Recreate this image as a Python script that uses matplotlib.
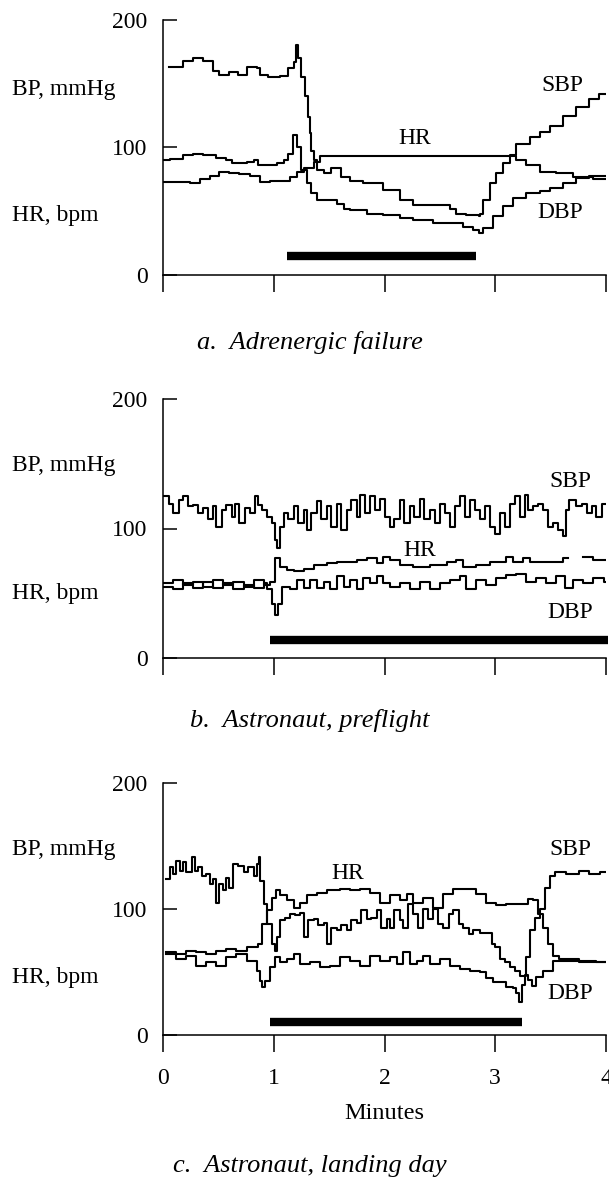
import numpy as np
import matplotlib
matplotlib.use("Agg")
import matplotlib.pyplot as plt

plt.rcParams['font.family'] = ['Liberation Serif', 'DejaVu Serif']

# ---- a. adrenergic failure ----
a_sbp_t = [0.05, 0.18, 0.27, 0.36, 0.45, 0.51, 0.60, 0.68, 0.76, 0.85, 0.88, 0.95, 1.06, 1.13, 1.18,
           1.20, 1.22, 1.25, 1.28, 1.31, 1.33, 1.34, 1.36, 1.39, 1.45, 1.52, 1.57, 1.61, 1.69, 1.81,
           1.99, 2.14, 2.26, 2.38, 2.50, 2.59, 2.65, 2.74, 2.85, 2.86, 2.89, 2.95, 3.01, 3.07, 3.13,
           3.19, 3.31, 3.40, 3.49, 3.61, 3.73, 3.85, 3.94, 4.02]
a_sbp = [163, 168, 170, 168, 160, 157, 159, 157, 163, 162, 157, 155, 156, 162, 167,
         180, 170, 155, 140, 124, 111, 97, 90, 82, 80, 84, 84, 77, 74, 72,
         67, 59, 55, 55, 55, 52, 48, 47, 46, 48, 59, 72, 80, 88, 94,
         103, 108, 112, 117, 125, 132, 138, 142, 143]
a_dbp_t = [0.0, 0.06, 0.18, 0.27, 0.36, 0.48, 0.57, 0.62, 0.69, 0.76, 0.82, 0.86, 0.94, 1.03, 1.09,
           1.13, 1.17, 1.21, 1.25, 1.30, 1.34, 1.39, 1.45, 1.57, 1.63, 1.69, 1.84, 1.99, 2.14, 2.26,
           2.44, 2.59, 2.71, 2.80, 2.85, 2.89, 2.98, 3.07, 3.16, 3.28, 3.40, 3.49, 3.61, 3.73, 3.85, 4.02]
a_dbp = [90, 91, 94, 95, 94, 92, 90, 88, 88, 89, 90, 86, 86, 88, 90,
         95, 110, 100, 82, 72, 64, 59, 59, 56, 52, 51, 48, 47, 45, 43,
         41, 41, 38, 35, 33, 37, 46, 54, 60, 64, 66, 68, 72, 76, 78, 84]
a_hr_t = [0.0, 0.12, 0.24, 0.33, 0.42, 0.51, 0.60, 0.69, 0.79, 0.88, 0.97, 1.09, 1.15, 1.21, 1.27,
          1.36, 1.42, 3.13, 3.19, 3.28, 3.40, 3.55, 3.70, 3.88, 4.02]
a_hr = [73, 73, 72, 75, 78, 81, 80, 79, 78, 73, 74, 74, 77, 81, 84,
        89, 93, 93, 90, 86, 81, 80, 77, 75, 75]
a_bar = [1.12, 2.83]
a_bar_level = 15

# ---- b. astronaut, preflight ----
b_sbp_t = [0.0, 0.05, 0.09, 0.14, 0.18, 0.23, 0.27, 0.32, 0.36, 0.41,
           0.45, 0.48, 0.53, 0.57, 0.62, 0.65, 0.69, 0.74, 0.79, 0.83,
           0.86, 0.89, 0.94, 0.98, 1.01, 1.03, 1.06, 1.09, 1.13, 1.18,
           1.22, 1.27, 1.30, 1.34, 1.39, 1.43, 1.48, 1.52, 1.57, 1.61,
           1.66, 1.70, 1.75, 1.78, 1.82, 1.87, 1.91, 1.96, 2.00, 2.05,
           2.09, 2.14, 2.18, 2.23, 2.27, 2.32, 2.36, 2.41, 2.46, 2.50,
           2.55, 2.59, 2.64, 2.68, 2.73, 2.77, 2.82, 2.86, 2.91, 2.95,
           3.00, 3.04, 3.09, 3.13, 3.18, 3.22, 3.27, 3.30, 3.34, 3.39,
           3.43, 3.48, 3.52, 3.57, 3.61, 3.64, 3.67, 3.73, 3.78, 3.83,
           3.87, 3.91, 3.96, 4.02]
b_sbp = [125, 119, 112, 122, 125, 117, 118, 112, 116, 107,
         117, 101, 114, 118, 109, 119, 104, 116, 112, 125,
         118, 114, 109, 104, 91, 85, 101, 112, 107, 117,
         104, 114, 99, 112, 121, 107, 117, 101, 119, 99,
         114, 122, 109, 126, 112, 125, 114, 123, 109, 101,
         107, 122, 104, 117, 109, 123, 107, 114, 104, 119,
         112, 101, 117, 125, 109, 122, 114, 107, 117, 101,
         96, 112, 101, 119, 125, 109, 126, 114, 117, 119,
         114, 101, 104, 99, 94, 114, 122, 117, 119, 112,
         117, 109, 119, 112]
b_hr_t = [0.0, 0.09, 0.18, 0.27, 0.36, 0.45, 0.54, 0.63, 0.73, 0.82,
          0.91, 0.97, 1.01, 1.06, 1.12, 1.18, 1.27, 1.36, 1.48, 1.57,
          1.66, 1.75, 1.84, 1.93, 1.99, 2.05, 2.14, 2.26, 2.41, 2.56,
          2.65, 2.71, 2.83, 2.95, 3.10, 3.16, 3.25, 3.31, 3.46, 3.61,
          3.66, 3.79, 3.88, 4.02]
b_hr = [58, 60, 56, 59, 55, 60, 56, 59, 55, 60,
        56, 59, 77, 70, 68, 67, 69, 72, 73, 74,
        74, 76, 77, 73, 78, 76, 72, 70, 72, 74,
        76, 70, 72, 74, 78, 74, 77, 74, 74, 77,
        np.nan, 78, 76, 76]
b_dbp_t = [0.0, 0.09, 0.18, 0.27, 0.36, 0.45, 0.54, 0.63, 0.73, 0.82,
           0.91, 0.94, 0.98, 1.01, 1.04, 1.07, 1.15, 1.21, 1.27, 1.33,
           1.39, 1.45, 1.51, 1.57, 1.63, 1.69, 1.75, 1.81, 1.87, 1.93,
           1.99, 2.05, 2.14, 2.23, 2.32, 2.41, 2.50, 2.59, 2.68, 2.74,
           2.83, 2.92, 3.01, 3.10, 3.19, 3.28, 3.37, 3.46, 3.55, 3.63,
           3.70, 3.79, 3.88, 3.98, 4.02]
b_dbp = [55, 53, 58, 54, 59, 54, 58, 53, 56, 54,
         58, 53, 42, 33, 42, 55, 53, 60, 54, 60,
         54, 59, 53, 63, 55, 60, 53, 62, 58, 63,
         58, 55, 58, 53, 59, 53, 58, 60, 63, 53,
         60, 56, 62, 64, 65, 59, 62, 58, 63, 54,
         60, 58, 62, 59, 56]
b_bar = [0.97, 4.02]
b_bar_level = 14

# ---- c. astronaut, landing day ----
c_sbp_t = [0.03, 0.06, 0.09, 0.12, 0.15, 0.18, 0.21, 0.26, 0.29, 0.32,
           0.35, 0.39, 0.42, 0.45, 0.48, 0.51, 0.54, 0.57, 0.60, 0.63,
           0.68, 0.73, 0.77, 0.82, 0.85, 0.87, 0.88, 0.91, 0.94, 0.98,
           1.01, 1.03, 1.06, 1.10, 1.15, 1.19, 1.24, 1.27, 1.31, 1.36,
           1.40, 1.45, 1.48, 1.52, 1.57, 1.61, 1.66, 1.70, 1.75, 1.79,
           1.84, 1.88, 1.93, 1.97, 2.02, 2.05, 2.09, 2.14, 2.17, 2.21,
           2.26, 2.30, 2.35, 2.39, 2.44, 2.48, 2.53, 2.58, 2.62, 2.67,
           2.71, 2.76, 2.80, 2.86, 2.92, 2.97, 3.00, 3.04, 3.09, 3.13,
           3.18, 3.22, 3.25, 3.28, 3.31, 3.36, 3.40, 3.45, 3.49, 3.54,
           3.64, 3.76, 3.85, 3.95, 4.02]
c_sbp = [124, 133, 128, 138, 130, 137, 129, 141, 130, 133,
         126, 128, 120, 124, 105, 120, 115, 125, 117, 136,
         134, 129, 133, 126, 136, 141, 122, 104, 88, 72,
         67, 78, 91, 93, 96, 95, 97, 78, 91, 92,
         87, 89, 72, 85, 83, 87, 83, 91, 89, 99,
         92, 93, 99, 85, 92, 85, 99, 91, 85, 104,
         96, 85, 100, 92, 100, 88, 85, 96, 99, 88,
         85, 80, 83, 81, 81, 72, 70, 60, 58, 54,
         51, 47, 47, 62, 83, 93, 100, 117, 126, 129,
         128, 130, 128, 129, 132]
c_hr_t = [0.03, 0.12, 0.21, 0.30, 0.39, 0.48, 0.57, 0.66, 0.76, 0.82,
          0.86, 0.89, 0.94, 0.98, 1.02, 1.06, 1.12, 1.18, 1.24, 1.30,
          1.39, 1.48, 1.60, 1.69, 1.78, 1.87, 1.96, 2.05, 2.14, 2.20,
          2.26, 2.35, 2.44, 2.53, 2.62, 2.74, 2.83, 2.92, 3.01, 3.10,
          3.22, 3.30, 3.34, 3.39, 3.43, 3.48, 3.52, 3.58, 3.76, 3.91, 4.02]
c_hr = [66, 64, 67, 66, 64, 67, 68, 67, 70, 70,
        72, 88, 99, 109, 115, 111, 107, 101, 105, 111,
        113, 115, 116, 115, 116, 113, 105, 111, 107, 112,
        105, 109, 101, 112, 116, 116, 112, 105, 103, 104,
        104, 108, 107, 96, 85, 72, 63, 60, 59, 58, 58]
c_dbp_t = [0.03, 0.12, 0.21, 0.30, 0.39, 0.48, 0.57, 0.66, 0.76, 0.82,
           0.85, 0.88, 0.89, 0.92, 0.97, 1.01, 1.06, 1.12, 1.18, 1.24,
           1.33, 1.42, 1.51, 1.60, 1.69, 1.78, 1.87, 1.96, 2.05, 2.11,
           2.17, 2.23, 2.29, 2.35, 2.41, 2.50, 2.59, 2.68, 2.77, 2.86,
           2.92, 2.98, 3.04, 3.10, 3.16, 3.19, 3.21, 3.24, 3.27, 3.30,
           3.33, 3.37, 3.43, 3.52, 3.64, 3.76, 3.89, 4.02]
c_dbp = [64, 60, 63, 55, 58, 55, 62, 64, 59, 59,
         51, 43, 38, 43, 54, 62, 58, 60, 64, 56,
         58, 54, 55, 62, 59, 55, 63, 59, 62, 56,
         66, 56, 59, 63, 56, 60, 55, 52, 51, 50,
         45, 42, 42, 38, 37, 33, 26, 40, 48, 44,
         39, 46, 51, 59, 59, 58, 58, 58]
c_bar = [0.97, 3.24]
c_bar_level = 10

minute_ticks = [0, 1, 2, 3, 4]
value_ticks = [0, 100, 200]

W, H = 609, 1182
FS = 17
fig = plt.figure(figsize=(W / 100, H / 100), dpi=100)


def make_axes(top, bottom):
    # axes placed by pixel rows of the 200 and 0 levels
    ax = fig.add_axes([163 / W, 1 - bottom / H, 443 / W, (bottom - top) / H])
    ax.set_xlim(0, 4)
    ax.set_ylim(0, 200)
    ax.spines['top'].set_visible(False)
    ax.spines['right'].set_visible(False)
    ax.spines['left'].set_linewidth(1.1)
    ax.spines['bottom'].set_linewidth(1.1)
    ax.set_yticks(value_ticks)
    ax.set_xticks(minute_ticks)
    ax.tick_params(axis='y', direction='in', length=10, width=1.1, pad=11, labelsize=FS)
    ax.tick_params(axis='x', direction='out', length=12, width=1.1, pad=12, labelsize=FS)
    return ax


def draw_panel(ax, series, bar, bar_level, labels):
    for t, v in series:
        ax.plot(t, v, color='black', lw=1.5, drawstyle='steps-post')
    ax.plot(bar, [bar_level, bar_level], color='black', lw=6, solid_capstyle='butt',
            clip_on=False)
    for txt, x, y, ha in labels:
        ax.text(x, y, txt, ha=ha, va='center', fontsize=FS)


panels = [
    (20, 275, [(a_sbp_t, a_sbp), (a_dbp_t, a_dbp), (a_hr_t, a_hr)], a_bar, a_bar_level,
     [('SBP', 3.42, 149, 'left'), ('HR', 2.27, 107, 'center'), ('DBP', 3.38, 49, 'left')],
     'a.  Adrenergic failure', 342, 90, 215),
    (399, 658, [(b_sbp_t, b_sbp), (b_hr_t, b_hr), (b_dbp_t, b_dbp)], b_bar, b_bar_level,
     [('SBP', 3.49, 136, 'left'), ('HR', 2.32, 83, 'center'), ('DBP', 3.47, 35, 'left')],
     'b.  Astronaut, preflight', 721, 465, 593),
    (783, 1035, [(c_sbp_t, c_sbp), (c_hr_t, c_hr), (c_dbp_t, c_dbp)], c_bar, c_bar_level,
     [('SBP', 3.49, 147, 'left'), ('HR', 1.67, 128, 'center'), ('DBP', 3.47, 33, 'left')],
     'c.  Astronaut, landing day', 1166, 849, 977),
]

for i, (top, bottom, series, bar, lvl, labels, title, title_y, bp_y, hr_y) in enumerate(panels):
    ax = make_axes(top, bottom)
    draw_panel(ax, series, bar, lvl, labels)
    if i < 2:
        ax.set_xticklabels([])
    else:
        ax.set_xlabel('Minutes', fontsize=17.5, labelpad=10)
    fig.text(12 / W, 1 - bp_y / H, 'BP, mmHg', ha='left', va='center', fontsize=FS)
    fig.text(12 / W, 1 - hr_y / H, 'HR, bpm', ha='left', va='center', fontsize=FS)
    fig.text(310 / W, 1 - title_y / H, title, ha='center', va='center', fontsize=19,
             style='italic')

fig.savefig('out.png', dpi=100)
